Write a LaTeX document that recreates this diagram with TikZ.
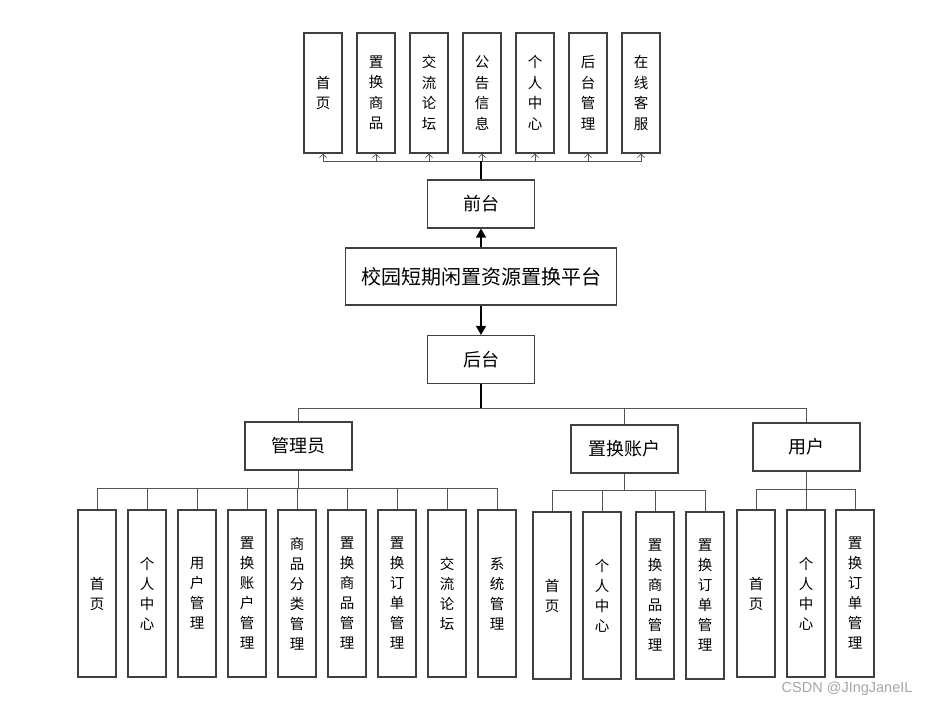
\documentclass[tikz,border=0pt]{standalone}
\usepackage{fontspec}
\newfontfamily\cjk{Noto Sans CJK SC}
\usetikzlibrary{arrows.meta}
\definecolor{boxgray}{HTML}{404040}
\definecolor{linegray}{HTML}{555555}
\begin{document}
\begin{tikzpicture}[x=1pt,y=-1pt,
  box/.style={draw=boxgray,line width=1.1pt,fill=white,inner sep=0pt,align=center},
  vtop/.style={box,minimum width=38pt,minimum height=120pt,font={\cjk\fontsize{14.5}{20.5}\selectfont}},
  vlow/.style={box,minimum width=38pt,minimum height=167pt,font={\cjk\fontsize{14.5}{20}\selectfont}},
  mid/.style={box,minimum width=107pt,minimum height=48pt,font={\cjk\fontsize{18}{20}\selectfont}},
  conn/.style={draw=linegray,line width=0.9pt},
  upar/.style={conn,-{Straight Barb[length=3.5pt,width=7pt,line width=0.7pt]}},
  main/.style={draw=black,line width=1.3pt,-{Triangle[length=9pt,width=10pt]}}
]
\useasboundingbox (0,0) rectangle (931,707);
% top row
\node[vtop] (t1) at (323,93) {首\\页};
\node[vtop] (t2) at (376,93) {置\\换\\商\\品};
\node[vtop] (t3) at (429,93) {交\\流\\论\\坛};
\node[vtop] (t4) at (482,93) {公\\告\\信\\息};
\node[vtop] (t5) at (535,93) {个\\人\\中\\心};
\node[vtop] (t6) at (588,93) {后\\台\\管\\理};
\node[vtop] (t7) at (641,93) {在\\线\\客\\服};
\node[mid] (qt) at (481,204) {前台};
\node[box,minimum width=271pt,minimum height=57pt,font={\cjk\fontsize{20}{22}\selectfont}] (pf) at (481,276.5) {校园短期闲置资源置换平台};
\node[mid] (ht) at (481,359.5) {后台};
% second level
\node[mid] (gl) at (298.5,446) {管理员};
\node[mid] (zh) at (624.5,449) {置换账户};
\node[mid] (yh) at (806.5,447) {用户};
% admin children
\node[vlow] (a1) at (97,593.5) {首\\页};
\node[vlow] (a2) at (147,593.5) {个\\人\\中\\心};
\node[vlow] (a3) at (197,593.5) {用\\户\\管\\理};
\node[vlow] (a4) at (247,593.5) {置\\换\\账\\户\\管\\理};
\node[vlow] (a5) at (297,593.5) {商\\品\\分\\类\\管\\理};
\node[vlow] (a6) at (347,593.5) {置\\换\\商\\品\\管\\理};
\node[vlow] (a7) at (397,593.5) {置\\换\\订\\单\\管\\理};
\node[vlow] (a8) at (447,593.5) {交\\流\\论\\坛};
\node[vlow] (a9) at (497,593.5) {系\\统\\管\\理};
% account children
\node[vlow] (b1) at (552,595.5) {首\\页};
\node[vlow] (b2) at (602,595.5) {个\\人\\中\\心};
\node[vlow] (b3) at (655,595.5) {置\\换\\商\\品\\管\\理};
\node[vlow] (b4) at (705,595.5) {置\\换\\订\\单\\管\\理};
% user children
\node[vlow] (c1) at (756,593.5) {首\\页};
\node[vlow] (c2) at (806,593.5) {个\\人\\中\\心};
\node[vlow] (c3) at (855,593.5) {置\\换\\订\\单\\管\\理};
% top connectors
\foreach \t in {t1,t2,t3,t4,t5,t6,t7}
  \draw[upar] (qt.north) ++(0,-18) -| (\t.south);
\draw[draw=black,line width=1.6pt] (qt.north) -- ++(0,-18);
% main arrows
\draw[main] (pf.north) -- (qt.south);
\draw[main] (pf.south) -- (ht.north);
% second level connectors
\draw[draw=black,line width=1.2pt] (ht.south) -- ++(0,24);
\foreach \t in {gl,zh,yh}
  \draw[conn] (ht.south) ++(0,24) -| (\t.north);
\foreach \t in {a1,a2,a3,a4,a5,a6,a7,a8,a9}
  \draw[conn] (gl.south) -- ++(0,18) -| (\t.north);
\foreach \t in {b1,b2,b3,b4}
  \draw[conn] (zh.south) -- ++(0,17) -| (\t.north);
\foreach \t in {c1,c2,c3}
  \draw[conn] (yh.south) -- ++(0,18) -| (\t.north);
% watermark
\node[font={\fontspec{Liberation Sans}\fontsize{14.5}{16}\selectfont},text=gray!70,anchor=east] (wm) at (916,689) {CSDN @JIngJaneIL};
\end{tikzpicture}
\end{document}
